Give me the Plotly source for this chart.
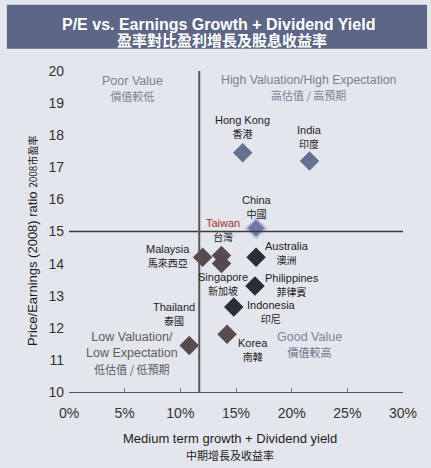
import plotly.graph_objects as go

# Country data: medium-term growth + dividend yield (%) vs 2008 P/E
countries = ["Hong Kong", "India", "China", "Taiwan", "Malaysia", "Singapore",
             "Australia", "Philippines", "Thailand", "Indonesia", "Korea"]
countries_zh = ["香港", "印度", "中國", "台灣", "馬來西亞", "新加坡",
                "澳洲", "菲律賓", "泰國", "印尼", "南韓"]
growth = [15.6, 21.6, 16.8, 13.7, 12.0, 13.7, 16.8, 16.7, 10.8, 14.8, 14.2]
pe_ratio = [17.45, 17.2, 15.1, 14.25, 14.2, 14.0, 14.2, 13.3, 11.45, 12.65, 11.8]

# Quadrant dividers
avg_growth = 11.7
avg_pe = 15.0

x_ticks = [0, 5, 10, 15, 20, 25, 30]
x_tick_labels = ["0%", "5%", "10%", "15%", "20%", "25%", "30%"]
y_ticks = [10, 11, 12, 13, 14, 15, 16, 17, 18, 19, 20]

# styling per country
marker_colors = {
    "Hong Kong": "#66708f", "India": "#66708f", "China": "#6f77a6",
    "Taiwan": "#5a4b50", "Malaysia": "#5a4b50", "Singapore": "#574850",
    "Thailand": "#5a4b50", "Korea": "#5a4b50",
    "Australia": "#2d2d35", "Philippines": "#2d2d35", "Indonesia": "#2d2d35",
}
# label block offsets (pixels) from each marker
label_offsets = {
    "Hong Kong": (0, -25), "India": (0, -23), "China": (1, -21),
    "Taiwan": (1, -25), "Malaysia": (-35, -1), "Singapore": (1, 21),
    "Australia": (31, -4), "Philippines": (37, -1), "Thailand": (-15, -31),
    "Indonesia": (38, 6), "Korea": (26, 16),
}

FONT = "Liberation Sans, Arial, Noto Sans CJK TC"
ZH = "Noto Sans CJK TC"

fig = go.Figure()

fig.add_trace(go.Scatter(
    x=growth, y=pe_ratio, mode="markers",
    marker=dict(symbol="diamond", size=15,
                color=[marker_colors[c] for c in countries],
                line=dict(width=[2 if c == "China" else 0 for c in countries],
                          color="#b9bdd8")),
    hoverinfo="skip", showlegend=False,
))

annotations = []
for c, zh, gx, py in zip(countries, countries_zh, growth, pe_ratio):
    dx, dy = label_offsets[c]
    en_color = "#a0302f" if c == "Taiwan" else "#1c1c1c"
    annotations.append(dict(
        x=gx, y=py, xref="x", yref="y", showarrow=False,
        xanchor="center", yanchor="middle", xshift=dx, yshift=-dy,
        text=(f"<span style='color:{en_color}'>{c}</span><br>"
              f"<span style='font-size:10px;font-family:{ZH}'>{zh}</span>"),
        font=dict(family=FONT, size=11, color="#1c1c1c"),
    ))


def paper_note(text, x, y, size=12, color="#7b8096", angle=0):
    annotations.append(dict(
        x=x, y=y, xref="paper", yref="paper", showarrow=False,
        xanchor="center", yanchor="middle", text=text, textangle=angle,
        font=dict(family=FONT, size=size, color=color),
    ))


# quadrant captions
paper_note("Poor Value<br><span style='font-family:Noto Sans CJK TC;font-size:11px'>價值較低</span>",
           0.189, 0.945, size=12.5)
paper_note("High Valuation/High Expectation<br><span style='font-family:Noto Sans CJK TC;font-size:11px'>高估值 / 高預期</span>",
           0.719, 0.947, size=12.3)
paper_note("Low Valuation/<br>Low Expectation<br><span style='font-family:Noto Sans CJK TC;font-size:11px'>低估值 / 低預期</span>",
           0.189, 0.121, color="#5c5c5c", size=12.5)
paper_note("Good Value<br><span style='font-family:Noto Sans CJK TC;font-size:11px;color:#6b6f88'>價值較高</span>",
           0.719, 0.145, color="#7d82a0", size=12.5)

# axis titles
paper_note("Medium term growth + Dividend yield", 0.482, -0.146, size=13, color="#1c1c1c")
paper_note("中期增長及收益率", 0.482, -0.199, size=11, color="#1c1c1c")
paper_note("Price/Earnings (2008) ratio <span style='font-size:10px;font-family:Noto Sans CJK TC'>2008市盈率</span>",
           -0.111, 0.47, size=13, color="#1c1c1c", angle=-90)

# title band text
paper_note("<b>P/E vs. Earnings Growth + Dividend Yield</b>", 0.449, 1.146, size=16, color="#ffffff")
paper_note("<b>盈率對比盈利增長及股息收益率</b>", 0.458, 1.095, size=15, color="#ffffff")

shapes = [
    # title band
    dict(type="rect", xref="paper", yref="paper", x0=-0.186, x1=1.072,
         y0=1.069, y1=1.206, fillcolor="#5d6687", line=dict(width=0), layer="below"),
    # quadrant dividers
    dict(type="line", xref="x", yref="y", x0=0, x1=30, y0=avg_pe, y1=avg_pe,
         line=dict(color="#3a3a3a", width=1.5)),
    dict(type="line", xref="x", yref="y", x0=avg_growth, x1=avg_growth, y0=10, y1=20.05,
         line=dict(color="#555555", width=2)),
]

fig.update_layout(
    width=431, height=468,
    margin=dict(l=69, r=28, t=71, b=76),
    paper_bgcolor="#e4e6ed", plot_bgcolor="#e4e6ed",
    font=dict(family=FONT, size=14, color="#333333"),
    annotations=annotations, shapes=shapes,
    xaxis=dict(range=[0, 30], tickvals=x_ticks, ticktext=x_tick_labels,
               showgrid=False, zeroline=False, showline=True, linecolor="#555555",
               linewidth=1.2, ticks="inside", ticklen=4, tickcolor="#777777",
               ticklabelstandoff=8, tickfont=dict(size=14, color="#333333"),
               fixedrange=True),
    yaxis=dict(range=[10, 20], tickvals=y_ticks, showgrid=False, zeroline=False,
               showline=False, ticks="", ticklabelstandoff=4,
               tickfont=dict(size=14, color="#333333"), fixedrange=True),
)

fig.write_html("out.html")
